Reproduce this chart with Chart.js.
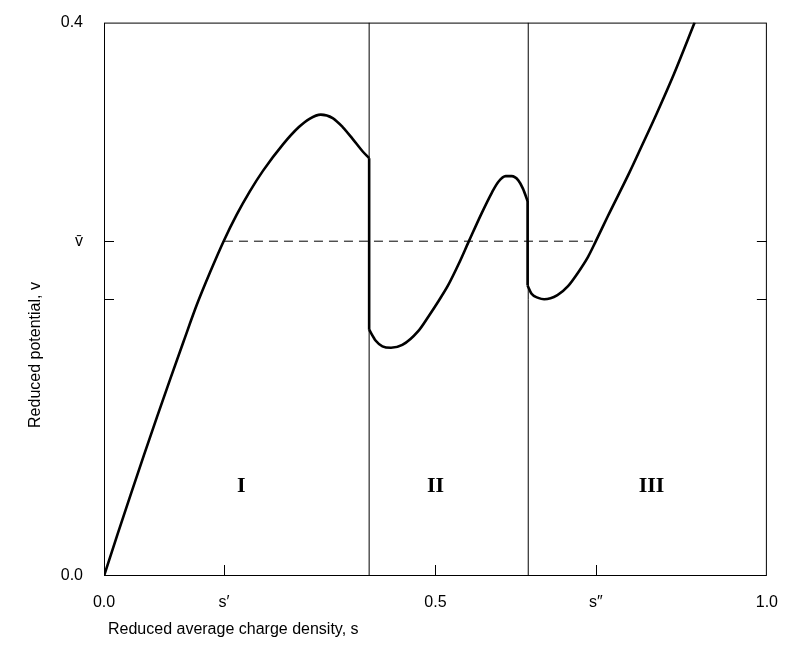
<!DOCTYPE html>
<html>
<head>
<meta charset="utf-8">
<script src="https://cdn.jsdelivr.net/npm/chart.js@4.4.1/dist/chart.umd.min.js"></script>
<style>
  html, body { margin: 0; padding: 0; background: #fff; }
  #wrap { width: 787px; height: 646px; }
</style>
</head>
<body>
<div id="wrap"><canvas id="potential"></canvas></div>
<script>
// reduced average charge density s vs reduced potential v, three branches (regions I, II, III)
var branch1S = [0, 0.02, 0.04, 0.06, 0.08, 0.10, 0.12, 0.14, 0.16, 0.181, 0.20, 0.22, 0.24, 0.27, 0.294, 0.31, 0.327, 0.345, 0.36, 0.375, 0.39, 0.40];
var branch1V = [0, 0.0295, 0.0585, 0.087, 0.115, 0.1425, 0.1695, 0.196, 0.2195, 0.2425, 0.261, 0.278, 0.293, 0.312, 0.3245, 0.3305, 0.3335, 0.331, 0.3245, 0.316, 0.307, 0.302];
var branch2S = [0.40, 0.41, 0.42, 0.433, 0.45, 0.474, 0.49, 0.505, 0.519, 0.535, 0.55, 0.57, 0.585, 0.595, 0.606, 0.615, 0.625, 0.632, 0.639];
var branch2V = [0.178, 0.170, 0.166, 0.165, 0.167, 0.177, 0.188, 0.199, 0.210, 0.2255, 0.2415, 0.2625, 0.277, 0.285, 0.289, 0.289, 0.286, 0.280, 0.271];
var branch3S = [0.639, 0.645, 0.655, 0.664, 0.684, 0.70, 0.714, 0.73, 0.742, 0.76, 0.792, 0.81, 0.834, 0.86, 0.891];
var branch3V = [0.210, 0.204, 0.201, 0.200, 0.203, 0.2095, 0.2185, 0.2305, 0.242, 0.260, 0.291, 0.3095, 0.3345, 0.363, 0.400];

var boundaries = [0.40, 0.64];
var sPrime = 0.181, sDouble = 0.742, vBar = 0.242;

var xTickValues = [0, sPrime, 0.5, sDouble, 1.0];
var xTickLabels = ['0.0', 's\u2032', '0.5', 's\u2033', '1.0'];
var yTickValues = [0, 0.2, vBar, 0.4];
var yTickLabels = ['0.0', '', 'v\u0304', '0.4'];

var regionNames = ['I', 'II', 'III'];
var regionS = [0.207, 0.50, 0.826];
var regionV = 0.065;

Chart.defaults.font.family = "'Liberation Sans', Arial, sans-serif";
Chart.defaults.font.size = 16;
Chart.defaults.color = '#000';

function pts(xs, ys) {
    return xs.map(function (x, i) { return { x: x, y: ys[i] }; });
}

function curveSet(data) {
    return {
        data: data,
        borderColor: '#000',
        borderWidth: 2.6,
        pointRadius: 0,
        cubicInterpolationMode: 'monotone',
        fill: false
    };
}

var datasets = [
    curveSet(pts(branch1S, branch1V)),
    curveSet(pts(branch2S, branch2V)),
    curveSet(pts(branch3S, branch3V)),
    // vertical jumps between branches
    curveSet(pts([branch1S[branch1S.length - 1], branch2S[0]], [branch1V[branch1V.length - 1], branch2V[0]])),
    curveSet(pts([branch2S[branch2S.length - 1], branch3S[0]], [branch2V[branch2V.length - 1], branch3V[0]])),
    {
        data: pts([sPrime, sDouble], [vBar, vBar]),
        borderColor: '#000',
        borderWidth: 1,
        borderDash: [9, 6],
        pointRadius: 0
    }
];
boundaries.forEach(function (b) {
    datasets.push({
        data: pts([b, b], [0, 0.4]),
        borderColor: '#000',
        borderWidth: 1,
        pointRadius: 0
    });
});

// frame, inward tick marks, region numerals and axis titles
var decorations = {
    id: 'decorations',
    afterDatasetsDraw: function (chart) {
        var ctx = chart.ctx, a = chart.chartArea;
        var xs = chart.scales.x, ys = chart.scales.y;
        ctx.save();
        ctx.strokeStyle = '#000';
        ctx.lineWidth = 1;
        ctx.strokeRect(a.left + 0.5, a.top + 0.5, a.right - a.left - 1, a.bottom - a.top - 1);

        ctx.beginPath();
        [sPrime, 0.5, sDouble].forEach(function (v) {
            var px = Math.round(xs.getPixelForValue(v)) + 0.5;
            ctx.moveTo(px, a.bottom); ctx.lineTo(px, a.bottom - 11);
        });
        [0.2, vBar].forEach(function (v) {
            var py = Math.round(ys.getPixelForValue(v)) + 0.5;
            ctx.moveTo(a.left, py); ctx.lineTo(a.left + 10, py);
            ctx.moveTo(a.right, py); ctx.lineTo(a.right - 10, py);
        });
        ctx.stroke();

        ctx.fillStyle = '#000';
        ctx.font = "bold 22px 'Liberation Serif', serif";
        ctx.textAlign = 'center';
        ctx.textBaseline = 'middle';
        regionNames.forEach(function (n, i) {
            ctx.fillText(n, xs.getPixelForValue(regionS[i]), ys.getPixelForValue(regionV));
        });

        ctx.font = "16px 'Liberation Sans', Arial, sans-serif";
        ctx.textAlign = 'left';
        ctx.fillText('Reduced average charge density, s', 108, 630);
        ctx.translate(36, 355);
        ctx.rotate(-Math.PI / 2);
        ctx.textAlign = 'center';
        ctx.fillText('Reduced potential, v', 0, 0);
        ctx.restore();
    }
};

new Chart(document.getElementById('potential').getContext('2d'), {
    type: 'line',
    data: { datasets: datasets },
    options: {
        responsive: true,
        maintainAspectRatio: false,
        animation: false,
        layout: { padding: { top: 19, right: 16, left: 0, bottom: 0 } },
        plugins: {
            legend: { display: false },
            tooltip: { enabled: false }
        },
        scales: {
            x: {
                type: 'linear',
                min: 0,
                max: 1,
                afterBuildTicks: function (axis) {
                    axis.ticks = xTickValues.map(function (v) { return { value: v }; });
                },
                afterFit: function (scale) { scale.height = 70; },
                grid: { display: false },
                border: { display: false },
                ticks: {
                    autoSkip: false,
                    maxRotation: 0,
                    padding: 9,
                    callback: function (val, i) { return xTickLabels[i]; }
                }
            },
            y: {
                type: 'linear',
                min: 0,
                max: 0.4,
                afterBuildTicks: function (axis) {
                    axis.ticks = yTickValues.map(function (v) { return { value: v }; });
                },
                afterFit: function (scale) { scale.width = 104; },
                grid: { display: false },
                border: { display: false },
                ticks: {
                    autoSkip: false,
                    padding: 13,
                    callback: function (val, i) { return yTickLabels[i]; }
                }
            }
        }
    },
    plugins: [decorations]
});
</script>
</body>
</html>
